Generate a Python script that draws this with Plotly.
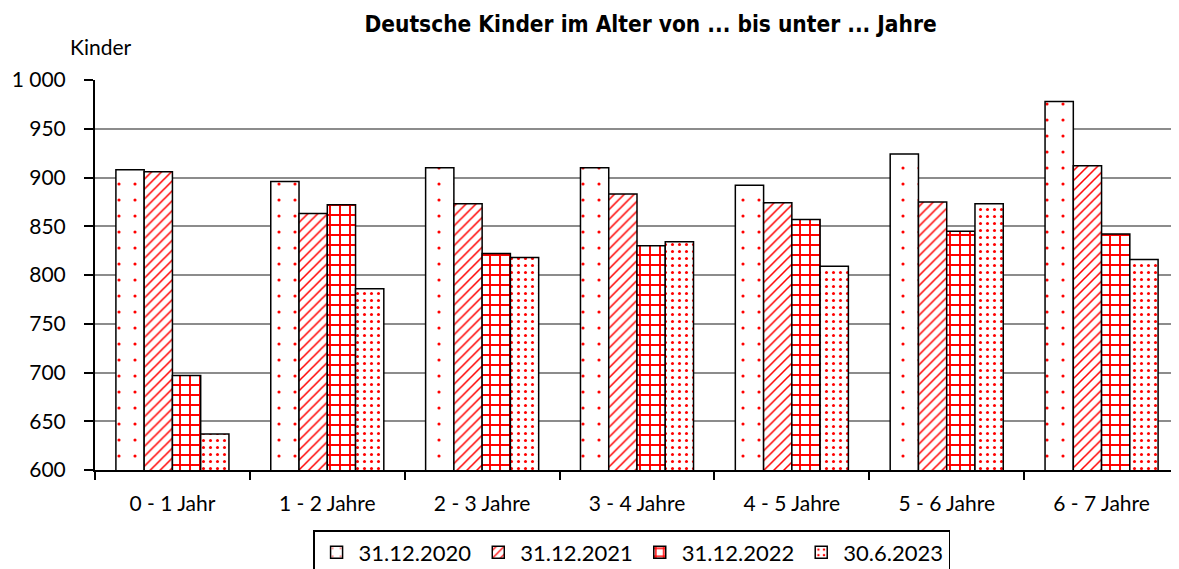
import plotly.graph_objects as go

categories = ["0 - 1 Jahr", "1 - 2 Jahre", "2 - 3 Jahre", "3 - 4 Jahre", "4 - 5 Jahre", "5 - 6 Jahre", "6 - 7 Jahre"]
series_names = ["31.12.2020", "31.12.2021", "31.12.2022", "30.6.2023"]
v2020 = [908, 896, 910, 910, 892, 924, 978]
v2021 = [906, 863, 873, 883, 874, 875, 912]
v2022 = [697, 872, 822, 830, 857, 845, 842]
v2023 = [637, 786, 818, 834, 809, 873, 816]
tick_vals = [600, 650, 700, 750, 800, 850, 900, 950, 1000]
tick_text = ["600", "650", "700", "750", "800", "850", "900", "950", "1 000"]

patterns = [
    dict(shape=".", fgcolor="#ff0000", bgcolor="white", size=16, solidity=0.03, fgopacity=1),
    dict(shape="/", fgcolor="#ff0000", bgcolor="white", size=7, solidity=0.22, fgopacity=1),
    dict(shape="+", fgcolor="#ff0000", bgcolor="white", size=10, solidity=0.35, fgopacity=1),
    dict(shape=".", fgcolor="#ff0000", bgcolor="white", size=7, solidity=0.15, fgopacity=1),
]

fig = go.Figure()
for name, vals, pat in zip(series_names, [v2020, v2021, v2022, v2023], patterns):
    fig.add_trace(go.Bar(
        x=categories, y=vals, name=name,
        marker=dict(color="white", pattern=pat, line=dict(color="black", width=1.5)),
    ))

font_main = "Lato, Open Sans, sans-serif"
fig.update_layout(
    width=1179, height=569,
    margin=dict(l=87, r=8, t=72, b=107, autoexpand=False),
    plot_bgcolor="white", paper_bgcolor="white",
    barmode="group", bargap=0.27, bargroupgap=0,
    font=dict(family=font_main, size=21, color="black"),
    title=dict(text="Deutsche Kinder im Alter von ... bis unter ... Jahre",
               x=0.545, xanchor="center", y=0.971, yanchor="middle",
               font=dict(family="DejaVu Sans Condensed, sans-serif", size=22.5, color="black", weight="bold")),
    showlegend=True,
    legend=dict(orientation="h", x=0.495, xanchor="center", y=-0.154, yanchor="top",
                bordercolor="black", borderwidth=1.5, font=dict(size=22),
                itemwidth=34, traceorder="normal"),
)
fig.add_annotation(text="Kinder", xref="paper", yref="paper", x=-0.025, y=1.085,
                   xanchor="left", yanchor="middle", showarrow=False,
                   font=dict(family=font_main, size=21, color="black"))

fig.update_yaxes(range=[600, 1000], tickvals=tick_vals, ticktext=tick_text,
                 showgrid=True, gridcolor="#8c8c8c", gridwidth=2,
                 showline=True, linecolor="black", linewidth=2,
                 ticks="outside", ticklen=9, tickcolor="black", tickwidth=2,
                 ticklabelstandoff=14, automargin=False,
                 tickfont=dict(size=21), zeroline=False)
fig.update_xaxes(showline=True, linecolor="black", linewidth=2,
                 ticks="outside", tickson="boundaries", ticklen=8, tickcolor="black", tickwidth=2,
                 ticklabelstandoff=14, automargin=False,
                 tickfont=dict(size=21), showgrid=False)

fig.write_html("out.html")
